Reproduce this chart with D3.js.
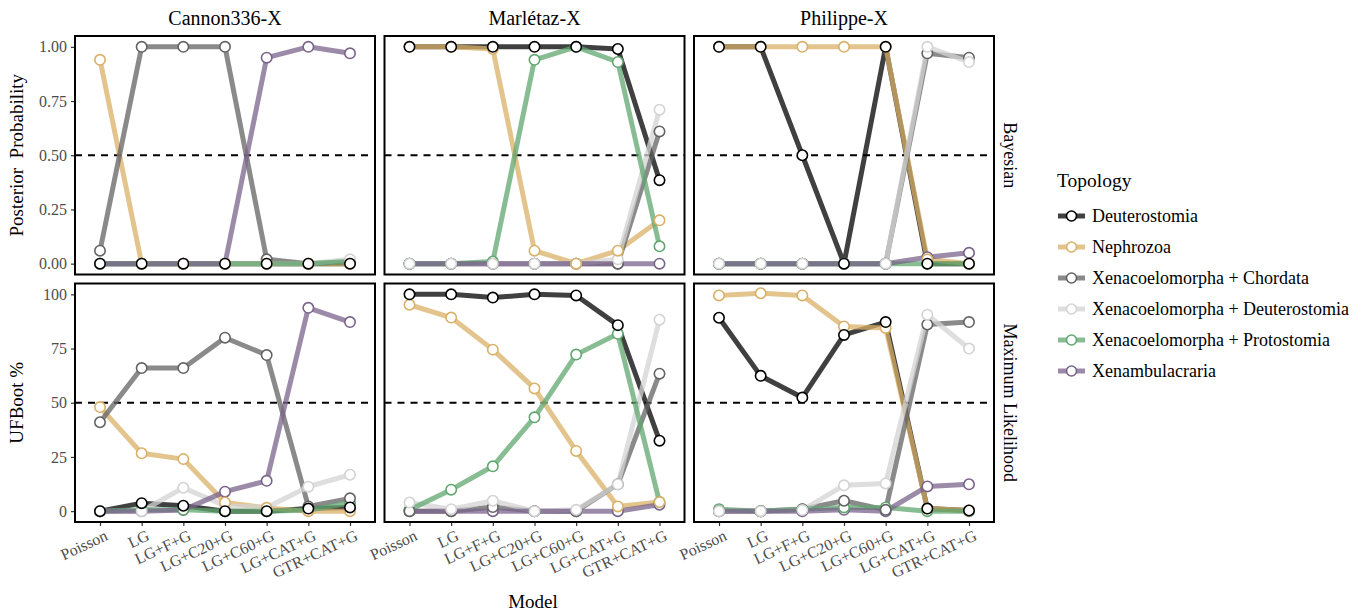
<!DOCTYPE html>
<html>
<head>
<meta charset="utf-8">
<script src="https://cdn.jsdelivr.net/npm/d3@7"></script>
<style>
  body { margin: 0; background: white; }
  text { font-family: "Liberation Serif", "DejaVu Serif", serif; }
</style>
</head>
<body>
<script>
// models on the x axis
const models = ["Poisson", "LG", "LG+F+G", "LG+C20+G", "LG+C60+G", "LG+CAT+G", "GTR+CAT+G"];
const datasets = ["Cannon336-X", "Marlétaz-X", "Philippe-X"];
const methods = ["Bayesian", "Maximum Likelihood"];
const topologies = [
  "Deuterostomia",
  "Nephrozoa",
  "Xenacoelomorpha + Chordata",
  "Xenacoelomorpha + Deuterostomia",
  "Xenacoelomorpha + Protostomia",
  "Xenambulacraria"
];
// same colour for lines (drawn with alpha) and point outlines
const colors = ["#000000", "#dab067", "#636363", "#d3d3d3", "#60a770", "#79638b"];

const biTicks = [0, 0.25, 0.5, 0.75, 1];
const mlTicks = [0, 25, 50, 75, 100];

// posterior probabilities, one row per topology
const cannonBI = [
  [0, 0, 0, 0, 0, 0, 0],
  [0.94, 0, 0, 0, 0, 0, 0],
  [0.06, 1, 1, 1, 0.02, 0, 0.01],
  [0, 0, 0, 0, 0, 0, 0.02],
  [0, 0, 0, 0, 0, 0, 0.01],
  [0, 0, 0, 0, 0.95, 1, 0.97]
];
const marletazBI = [
  [1, 1, 1, 1, 1, 0.99, 0.385],
  [1, 1, 0.99, 0.06, 0, 0.06, 0.2],
  [0, 0, 0, 0, 0, 0, 0.61],
  [0, 0, 0, 0, 0, 0.02, 0.71],
  [0, 0, 0.01, 0.94, 1, 0.93, 0.08],
  [0, 0, 0, 0, 0, 0, 0]
];
const philippeBI = [
  [1, 1, 0.5, 0, 1, 0, 0],
  [1, 1, 1, 1, 1, 0.02, 0],
  [0, 0, 0, 0, 0, 0.97, 0.95],
  [0, 0, 0, 0, 0, 1, 0.93],
  [0, 0, 0, 0, 0, 0, 0],
  [0, 0, 0, 0, 0, 0.03, 0.05]
];

// UFBoot support (%), one row per topology
const cannonML = [
  [0, 3.7, 2.5, 0, 0, 1.2, 1.7],
  [48, 26.7, 24, 4, 1.5, 0, 0],
  [41, 66, 66, 80, 72, 2.2, 5.9],
  [0, 0, 10.8, 2.5, 1.7, 11.3, 16.8],
  [0, 0.6, 0.6, 0, 0, 0.5, 3.7],
  [0, 0, 0.5, 9, 14, 93.8, 87.2]
];
const marletazML = [
  [100, 100, 98.5, 100, 99.5, 85.8, 32.5],
  [95.2, 89.3, 74.5, 56.6, 27.8, 2.2, 4.2],
  [0, 0, 1.9, 0, 0, 12.4, 63.4],
  [4, 0.9, 4.8, 0, 0.6, 12.4, 88.3],
  [0.6, 9.9, 20.7, 43.3, 72.2, 81.8, 4.2],
  [0, 0, 0, 0, 0, 0, 3]
];
const philippeML = [
  [89.2, 62.4, 52.4, 81.3, 87.2, 1.2, 0.3],
  [99.5, 100.5, 99.5, 85.2, 84.5, 1.2, 0.3],
  [0, 0, 0.9, 4.8, 0.6, 86.1, 87.2],
  [0, 0, 0.5, 11.9, 12.8, 90.6, 75],
  [0.9, 0, 0.9, 1.7, 1.7, 0, 0],
  [0, 0, 0, 0.6, 0, 11.4, 12.4]
];

const panelData = [
  [cannonBI, marletazBI, philippeBI],
  [cannonML, marletazML, philippeML]
];

const svg = d3.select("body").append("svg")
  .attr("width", 1368)
  .attr("height", 614);

const panelW = 300, panelH = 238.5;
const panelX = [75, 384.5, 694];
const panelY = [36, 283.5];

datasets.forEach((name, c) => {
  svg.append("text")
    .attr("x", panelX[c] + panelW / 2)
    .attr("y", 25)
    .attr("text-anchor", "middle")
    .style("font-size", "20px")
    .text(name);
});

methods.forEach((m, r) => {
  const cy = panelY[r] + panelH / 2;
  svg.append("text")
    .attr("transform", `translate(1004, ${cy}) rotate(90)`)
    .attr("text-anchor", "middle")
    .style("font-size", "18px")
    .text(m);
});

const yTitles = ["Posterior\u00a0\u00a0Probability", "UFBoot %"];

panelData.forEach((row, r) => {
  const ticks = r === 0 ? biTicks : mlTicks;
  const dom = r === 0 ? [-0.05, 1.05] : [-5, 105];
  const half = r === 0 ? 0.5 : 50;

  svg.append("text")
    .attr("transform", `translate(23, ${panelY[r] + panelH / 2}) rotate(-90)`)
    .attr("text-anchor", "middle")
    .style("font-size", "19px")
    .text(yTitles[r]);

  row.forEach((vals, c) => {
    const x = d3.scalePoint().domain(models)
      .range([panelX[c], panelX[c] + panelW]).padding(0.6);
    const y = d3.scaleLinear().domain(dom)
      .range([panelY[r] + panelH, panelY[r]]);
    const g = svg.append("g");

    // y axis on the first column only
    if (c === 0) {
      const ya = g.append("g")
        .attr("transform", `translate(${panelX[c]},0)`)
        .call(d3.axisLeft(y).tickValues(ticks).tickSize(4).tickPadding(4)
          .tickFormat(r === 0 ? d3.format(".2f") : d3.format("d")));
      ya.select(".domain").remove();
      ya.selectAll("line").attr("stroke", "#333").attr("stroke-width", 1.2);
      ya.selectAll("text").style("font-size", "16px").attr("fill", "#4d4d4d");
    }

    // x axis on bottom row
    if (r === 1) {
      const xa = g.append("g")
        .attr("transform", `translate(0,${panelY[r] + panelH})`)
        .call(d3.axisBottom(x).tickSize(4).tickFormat(""));
      xa.select(".domain").remove();
      xa.selectAll("line").attr("stroke", "#333").attr("stroke-width", 1.2);
      models.forEach(m => {
        g.append("text")
          .attr("transform", `translate(${x(m) + 4}, ${panelY[r] + panelH + 7}) rotate(-25)`)
          .attr("text-anchor", "end")
          .attr("dy", "0.72em")
          .attr("fill", "#4d4d4d")
          .style("font-size", "16px")
          .text(m);
      });
    }

    const clipId = `clip-${r}-${c}`;
    svg.append("clipPath").attr("id", clipId)
      .append("rect")
      .attr("x", panelX[c]).attr("y", panelY[r])
      .attr("width", panelW).attr("height", panelH);

    // dashed 50% line
    g.append("line")
      .attr("x1", panelX[c]).attr("x2", panelX[c] + panelW)
      .attr("y1", y(half)).attr("y2", y(half))
      .attr("stroke", "black")
      .attr("stroke-width", 1.8)
      .attr("stroke-dasharray", "7,6");

    const line = d3.line()
      .x((d, i) => x(models[i]))
      .y(d => y(d));

    const plot = g.append("g").attr("clip-path", `url(#${clipId})`);
    vals.forEach((v, k) => {
      plot.append("path")
        .attr("d", line(v))
        .attr("fill", "none")
        .attr("stroke", colors[k])
        .attr("stroke-width", 5)
        .attr("stroke-opacity", 0.75)
        .attr("stroke-linejoin", "round");
    });

    // points, Deuterostomia drawn last
    [5, 4, 2, 3, 1, 0].forEach(k => {
      plot.selectAll(null)
        .data(vals[k])
        .enter()
        .append("circle")
        .attr("cx", (d, i) => x(models[i]))
        .attr("cy", d => y(d))
        .attr("r", 5.2)
        .attr("fill", "white")
        .attr("stroke", colors[k])
        .attr("stroke-width", 1.6);
    });

    // panel border
    g.append("rect")
      .attr("x", panelX[c]).attr("y", panelY[r])
      .attr("width", panelW).attr("height", panelH)
      .attr("fill", "none")
      .attr("stroke", "black")
      .attr("stroke-width", 2);
  });
});

svg.append("text")
  .attr("x", 533)
  .attr("y", 608)
  .attr("text-anchor", "middle")
  .style("font-size", "19px")
  .text("Model");

// legend
const legend = svg.append("g").attr("transform", "translate(1057, 0)");
legend.append("text")
  .attr("x", 0).attr("y", 187)
  .style("font-size", "19.5px")
  .text("Topology");

const ly = d3.scalePoint().domain(topologies).range([216, 371]);
topologies.forEach((t, k) => {
  const yy = ly(t);
  legend.append("line")
    .attr("x1", 1).attr("x2", 28)
    .attr("y1", yy).attr("y2", yy)
    .attr("stroke", colors[k])
    .attr("stroke-opacity", 0.75)
    .attr("stroke-width", 5);
  legend.append("circle")
    .attr("cx", 14.5).attr("cy", yy).attr("r", 5)
    .attr("fill", "white")
    .attr("stroke", colors[k])
    .attr("stroke-width", 1.6);
  legend.append("text")
    .attr("x", 35).attr("y", yy)
    .attr("dy", "0.35em")
    .style("font-size", "18px")
    .text(t);
});
</script>
</body>
</html>
